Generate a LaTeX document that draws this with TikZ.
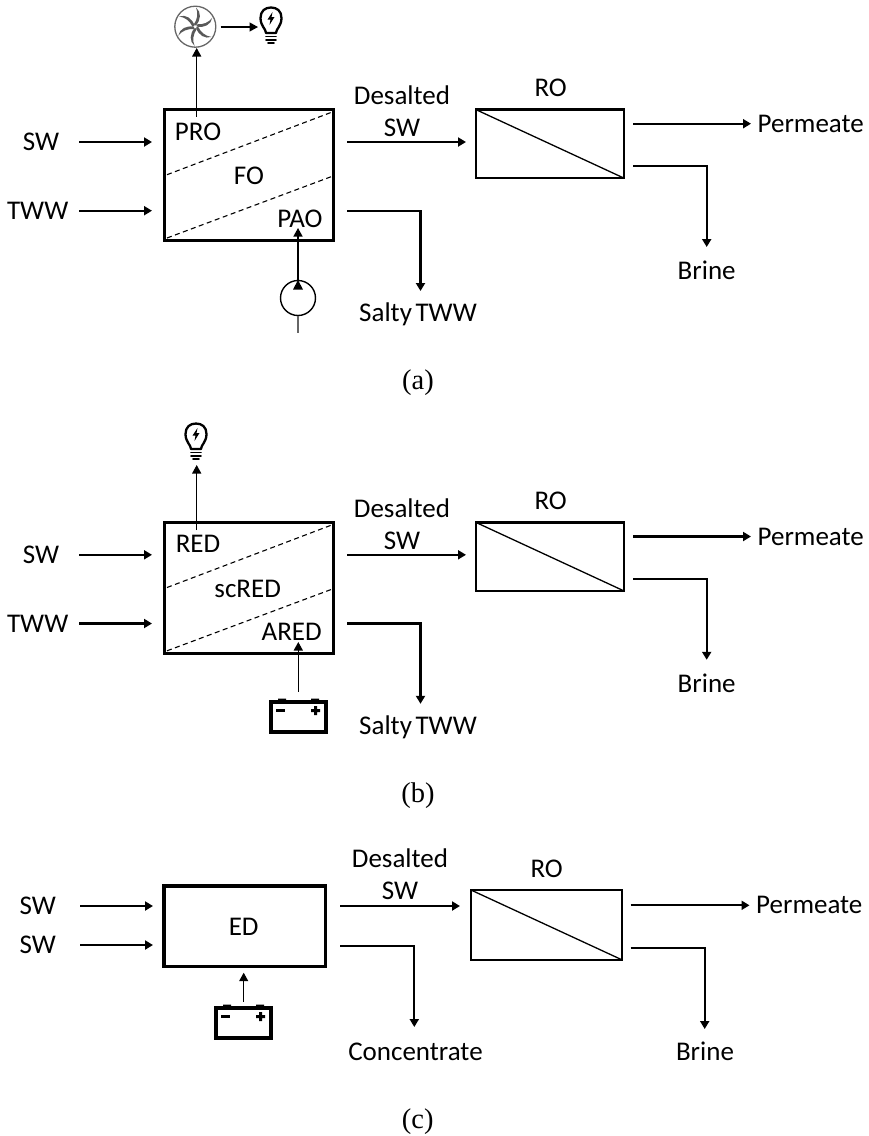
\documentclass[tikz,border=0pt]{standalone}
\usepackage{fontspec}
\setmainfont{Carlito}
\newfontfamily\capfont{Liberation Serif}
\usetikzlibrary{arrows.meta}
\tikzset{
  x=1pt,y=-1pt,
  every node/.style={outer sep=0pt},
  lbl/.style={inner sep=0pt,font=\fontsize{27}{32}\selectfont},
  caplbl/.style={inner sep=0pt,font=\capfont\fontsize{28.5}{32}\selectfont},
  mainbox/.style={draw,line width=3.2pt,inner sep=0pt,minimum width=#1,fill=none},
  robox/.style={draw,line width=2.4pt,inner sep=0pt,fill=none},
  flow/.style={line width=2.1pt,-{Triangle[length=8pt,width=9pt]}},
  thin flow/.style={line width=1.3pt,-{Triangle[length=8.5pt,width=9pt]}},
  memb/.style={line width=1.3pt},
  dashmemb/.style={line width=1.1pt,dash pattern=on 5pt off 3.5pt},
}
% bulb: #1 name, #2 x centre, #3 y top
\newcommand{\bulbicon}[3]{%
  \begin{scope}[shift={(#2,#3)}]
    \coordinate (#1) at (0,18);
    \draw[line width=2.3pt,line join=round] (-5,26) .. controls (-5,22) and (-10.5,19) .. (-10.5,11)
      .. controls (-10.5,4) and (-6,0.5) .. (0,0.5) .. controls (6,0.5) and (10.5,4) .. (10.5,11)
      .. controls (10.5,19) and (5,22) .. (5,26) -- cycle;
    \fill (1.5,5) -- (-3.5,12.5) -- (-0.5,12.5) -- (-1.5,18) -- (3.5,10) -- (0.5,10) -- cycle;
    \draw[line width=1.9pt,line cap=round] (-5,29.5) -- (5,29.5) (-5,33) -- (5,33) (-3,36) -- (3,36);
  \end{scope}}
% battery: #1 name, #2 left, #3 top
\newcommand{\batteryicon}[3]{%
  \begin{scope}[shift={(#2,#3)}]
    \node[draw,line width=3.2pt,minimum width=55pt,minimum height=30pt,inner sep=0pt,anchor=north west] (#1) at (1,0) {};
    \fill (8,-3.5) rectangle (16,0) (41,-3.5) rectangle (49,0);
    \fill (6,7) rectangle (15,10);
    \fill (41,7) rectangle (50,10) (44,4) rectangle (47,13);
  \end{scope}}
% common part of a panel
% #1 prefix, #2 y shift, #3 top, #4 mid, #5 bottom, #6 mid x, #7 bottom x
\newcommand{\stackpanel}[7]{%
  \begin{scope}[shift={(0,#2)}]
    \node[mainbox=169pt,minimum height=131pt,anchor=north west] (#1box) at (164.5,109.5) {};
    \node[robox,minimum width=148pt,minimum height=68.5pt,anchor=north west] (#1ro) at (475.7,109.5) {};
    \draw[memb] (#1ro.north west) -- (#1ro.south east);
    \coordinate (#1da) at (167,174.7); \coordinate (#1db) at (333,111.7);
    \coordinate (#1dc) at (167,238);   \coordinate (#1dd) at (333,176);
    \draw[dashmemb] (#1da) -- (#1db);
    \draw[dashmemb] (#1dc) -- (#1dd);
    \node[lbl] (#1sw) at (41,142) {SW};
    \node[lbl] (#1tww) at (37.7,211) {TWW};
    \node[lbl] (#1top) at (198,131.5) {#3};
    \node[lbl] (#1mid) at (#6,175.7) {#4};
    \node[lbl] (#1bot) at (#7,218.7) {#5};
    \node[lbl] (#1de) at (402,95) {Desalted};
    \node[lbl] (#1ds) at (402,127.7) {SW};
    \node[lbl] (#1rol) at (550.7,87.7) {RO};
    \node[lbl] (#1per) at (810.7,124) {Permeate};
    \node[lbl] (#1bri) at (706.7,270) {Brine};
    \node[lbl] (#1sal) at (418,314) {Salty\hspace{-2.5pt} TWW};
    \coordinate (#1s1) at (79,142);  \coordinate (#1e1) at (152,142);
    \coordinate (#1s2) at (79,210.7);\coordinate (#1e2) at (152,210.7);
    \coordinate (#1s3) at (347,142); \coordinate (#1e3) at (466,142);
    \coordinate (#1s4) at (347,210.7);\coordinate (#1c4) at (420.5,210.7);\coordinate (#1e4) at (420.5,291);
    \coordinate (#1s5) at (633,123.7);\coordinate (#1e5) at (751,123.7);
    \coordinate (#1s6) at (633,166.3);\coordinate (#1c6) at (706.7,166.3);\coordinate (#1e6) at (706.7,247);
    \draw[flow] (#1s1) -- (#1e1);
    \draw[flow] (#1s2) -- (#1e2);
    \draw[flow] (#1s3) -- (#1e3);
    \draw[flow] (#1s4) -- (#1c4) -- (#1e4);
    \draw[flow] (#1s5) -- (#1e5);
    \draw[flow] (#1s6) -- (#1c6) -- (#1e6);
  \end{scope}}
\begin{document}
\begin{tikzpicture}
\useasboundingbox (0,0) rectangle (869,1136);
% ---------- (a)
\stackpanel{a}{0}{PRO}{FO}{PAO}{249}{300}
\node[caplbl] (capa) at (418,382.7) {(a)};
% fan
\node[circle,draw=black!60,line width=1.3pt,minimum size=41pt,inner sep=0pt] (fan) at (195.3,26.7) {};
\foreach \ang in {0,60,...,300}{
  \fill[black!65,rotate around={\ang:(195.3,26.7)}]
    (195.8,25.5) .. controls (201,20) and (201.5,12) .. (196,7.5)
    .. controls (198.5,13) and (197.5,19) .. (193.8,24.5) -- cycle;
}
\bulbicon{bulba}{271}{7}
\coordinate (fanout) at (220.7,27); \coordinate (bulbin) at (258,27);
\draw[thin flow] (fanout) -- (bulbin);
\coordinate (fanup) at (196.7,116.7); \coordinate (fanin) at (196.7,48);
\draw[thin flow] (fanup) -- (fanin);
% pump
\node[circle,draw,line width=1.4pt,minimum size=35pt,inner sep=0pt] (pump) at (298,298) {};
\coordinate (pumptop) at (298,280); \coordinate (pumpin) at (298,228);
\coordinate (pumplow) at (298,316); \coordinate (pumpend) at (298,333);
\fill (298,280) -- (303,289.5) -- (293,289.5) -- cycle;
\draw[thin flow] (pumptop) -- (pumpin);
\draw[black!60,line width=1.8pt] (pumplow) -- (pumpend);
% ---------- (b)
\stackpanel{b}{412.8}{RED}{scRED}{ARED}{247.7}{291.7}
\node[caplbl] (capb) at (418,795.5) {(b)};
\bulbicon{bulbb}{196}{423}
\coordinate (bup) at (196.7,530); \coordinate (bupe) at (196.7,465);
\draw[thin flow] (bup) -- (bupe);
\batteryicon{batb}{270}{702}
\coordinate (bbat) at (298.3,691.7); \coordinate (bbate) at (298.3,642);
\draw[thin flow] (bbat) -- (bbate);
% ---------- (c)
\node[mainbox=161.7pt,minimum height=80.7pt,anchor=north west] (cbox) at (164,886) {};
\node[robox,minimum width=150.7pt,minimum height=69.7pt,anchor=north west] (cro) at (471,890) {};
\draw[memb] (cro.north west) -- (cro.south east);
\node[lbl] (csw1) at (37.7,906) {SW};
\node[lbl] (csw2) at (37.7,945) {SW};
\node[lbl] (ced) at (243.7,927) {ED};
\node[lbl] (cde) at (400,858) {Desalted};
\node[lbl] (cds) at (400,891) {SW};
\node[lbl] (crol) at (546.7,869) {RO};
\node[lbl] (cper) at (809.3,905) {Permeate};
\node[lbl] (cbri) at (705,1051.7) {Brine};
\node[lbl] (ccon) at (415.5,1051.7) {Concentrate};
\node[caplbl] (capc) at (417.7,1121.5) {(c)};
\coordinate (cs1) at (80,906);    \coordinate (ce1) at (153,906);
\coordinate (cs2) at (80,945);    \coordinate (ce2) at (153,945);
\coordinate (cs3) at (340,906);   \coordinate (ce3) at (460,906);
\coordinate (cs4) at (340,945.7); \coordinate (cc4) at (414.3,945.7); \coordinate (ce4) at (414.3,1027);
\coordinate (cs5) at (630.7,905.3); \coordinate (ce5) at (749.5,905.3);
\coordinate (cs6) at (630.7,948); \coordinate (cc6) at (704.7,948); \coordinate (ce6) at (704.7,1029);
\draw[flow] (cs1) -- (ce1);
\draw[flow] (cs2) -- (ce2);
\draw[flow] (cs3) -- (ce3);
\draw[flow] (cs4) -- (cc4) -- (ce4);
\draw[flow] (cs5) -- (ce5);
\draw[flow] (cs6) -- (cc6) -- (ce6);
\batteryicon{batc}{215}{1008}
\coordinate (cbat) at (243.7,1001.7); \coordinate (cbate) at (243.7,972.7);
\draw[thin flow] (cbat) -- (cbate);
\end{tikzpicture}
\end{document}
